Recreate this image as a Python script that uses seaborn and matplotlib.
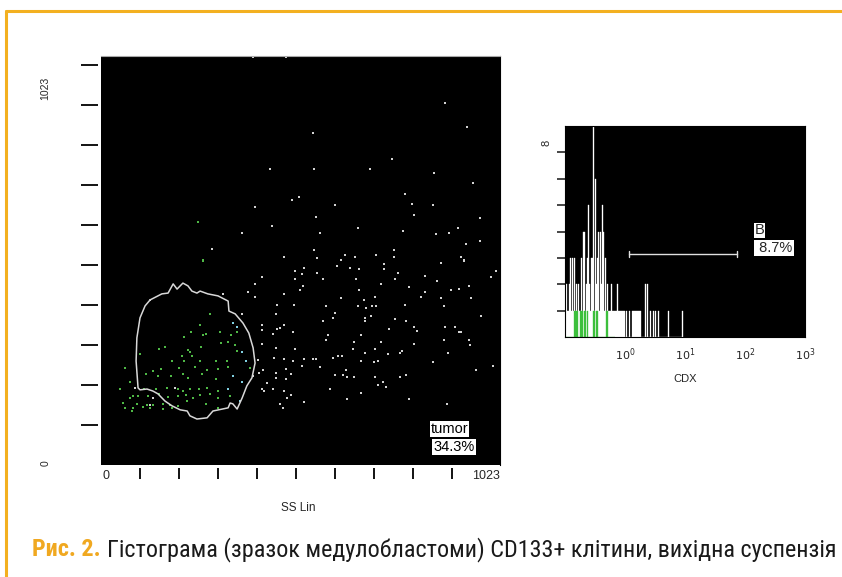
import numpy as np
import pandas as pd
import matplotlib.pyplot as plt
import matplotlib.ticker as ticker
import seaborn as sns
from matplotlib.font_manager import fontManager, FontProperties

# scatter data (SS Lin vs FS), channels 0..1023
ss_white = [390, 474, 433, 490, 508, 395, 438, 362, 285, 469,
            882, 938, 544, 746, 546, 690, 854, 954, 779, 600, 797, 851, 551, 803, 972,
            659, 562, 774, 859, 892, 915, 972, 936, 546, 751, 626, 705, 651, 751, 554,
            615, 923, 931,
            515, 520, 554, 605, 638, 662, 726, 726, 762, 872, 931, 1013, 1000, 569, 654,
            754, 831, 862, 718, 944, 518, 510, 662, 790, 831, 897, 918, 615, 674, 703,
            820, 872, 949, 779, 577, 659, 679, 695, 705, 879, 600, 692, 595, 569, 677,
            677, 754, 782, 974, 738, 803, 810, 882, 908, 918, 923, 582, 667, 577, 649,
            718, 803, 879, 944, 946, 646, 703, 677, 736, 767, 772, 890, 520, 544, 551,
            595, 608, 618, 667, 700, 710, 851, 1005, 515, 562, 628, 962, 600, 620, 631,
            649, 703, 767, 782, 723, 710, 731, 587, 667, 631, 790, 520, 887,
            497, 413, 497, 395, 377, 395, 469, 313, 495, 451, 362, 449, 469, 413, 459,
            451, 441, 492, 413, 413, 449, 497, 444, 469, 492, 403, 415, 405, 449, 474,
            487, 390, 449, 474, 426, 413, 441, 418, 469, 487, 477, 459, 467,
            87, 133, 190, 126]
fs_white = [1020, 1020, 740, 663, 670, 645, 598, 580, 540, 520,
            905, 845, 830, 765, 740, 740, 730, 705, 678, 650, 653, 650, 620, 625, 618,
            593, 580, 585, 578, 580, 593, 560, 553, 538, 538, 525, 525, 520, 520, 518,
            513, 520, 513,
            478, 493, 480, 498, 493, 490, 503, 490, 480, 505, 510, 485, 470, 465, 465,
            465, 473, 460, 453, 448, 448, 438, 438, 445, 433, 438, 440, 418, 413, 420,
            420, 418, 418, 400, 398, 398, 393, 398, 398, 398, 380, 373, 368, 360, 368,
            360, 365, 360, 373, 340, 345, 335, 345, 345, 333, 333, 325, 325, 313, 308,
            308, 303, 313, 313, 300, 290, 290, 280, 278, 280, 285, 280, 265, 265, 265,
            268, 273, 273, 260, 258, 260, 258, 248, 248, 245, 238, 238, 225, 225, 220,
            220, 220, 220, 225, 208, 200, 195, 190, 180, 165, 165, 158, 153,
            485, 470, 465, 453, 433, 420, 428, 428, 400, 400, 378, 378, 350, 350, 343,
            340, 328, 333, 338, 303, 293, 290, 268, 265, 260, 263, 238, 230, 230, 240,
            228, 223, 218, 215, 205, 190, 190, 185, 185, 175, 168, 153, 143,
            193, 168, 193, 150]

ss_green = [249, 262, 279, 254, 305, 231, 262, 269, 213, 349, 333, 308, 326, 344,
            349, 149, 223, 228, 256, 208, 233, 164, 100, 182, 213, 254, 295, 323,
            382, 62, 200, 241, 272, 300, 326, 154, 133, 115, 146, 179, 210, 223,
            259, 295, 74, 49, 110, 141, 169, 197, 210, 228, 251, 272, 300, 82, 95,
            121, 149, 172, 197, 218, 236, 254, 279, 300, 331, 56, 74, 92, 118, 133,
            159, 177, 197, 221, 269, 300, 62, 82, 108, 126, 159, 182, 79]
fs_green = [608, 512, 378, 350, 333, 333, 325, 328, 320, 333, 325, 305, 308, 300,
            285, 290, 288, 283, 295, 273, 273, 295, 278, 260, 260, 260, 260, 260,
            243, 243, 243, 245, 238, 240, 245, 240, 235, 228, 223, 223, 228, 218,
            228, 215, 208, 190, 190, 190, 193, 190, 185, 190, 190, 193, 185, 173, 173,
            173, 178, 170, 173, 175, 168, 175, 178, 168, 173, 155, 168, 153, 150, 150,
            153, 150, 148, 160, 153, 143, 143, 143, 145, 143, 140, 143, 135]

ss_cyan = [338, 349, 362, 372, 338, 362, 326, 356]
fs_cyan = [355, 345, 283, 260, 223, 208, 190, 160]

# "tumor" gate outline
gate_ss = [126, 156, 172, 185, 195, 210, 223, 233, 246, 254, 274, 300, 326, 328, 344,
           364, 379, 390, 395, 387, 374, 362, 349, 338, 331, 326, 287, 272, 246, 228,
           221, 203, 182, 164, 146, 133, 118, 100, 95, 90, 92, 100, 113, 126]
gate_fs = [413, 428, 430, 453, 440, 455, 448, 435, 430, 435, 428, 423, 410, 385, 378,
           355, 330, 293, 255, 218, 198, 168, 140, 153, 155, 143, 135, 118, 115, 123,
           135, 138, 148, 160, 178, 185, 190, 188, 193, 260, 318, 368, 398, 413]

# CDX histogram: counts per channel, channels start at 10^-1, 60 channels per decade
cdx_first_log = -1.0
cdx_step = 1 / 60
cdx_counts = [1, 2, 1, 1, 2, 3, 1, 3, 1, 3,
              1, 2, 1, 2, 1, 1, 3, 1, 4, 4,
              1, 2, 3, 5, 2, 1, 3, 3, 8, 1,
              6, 2, 3, 4, 1, 4, 2, 5, 4, 1,
              3, 1, 2, 1, 1, 1, 2, 1, 1, 1,
              1, 1, 2, 1, 1, 1, 1, 1, 1, 1,
              0, 1, 0, 0, 1, 0, 0, 1, 1, 1,
              1, 1, 1, 1, 1, 1, 0, 0, 0, 0,
              2, 0, 2, 0, 0, 1, 0, 0, 1, 0,
              1, 0, 0, 1, 0, 0, 0, 0, 0, 0,
              0, 0, 0, 1, 0, 0, 0, 0, 0, 0,
              0, 0, 0, 0, 0, 0, 0, 1]
cdx_green = [0, 0, 0, 0, 0, 0, 0, 0, 0, 1,
             1, 1, 1, 0, 0, 1, 1, 1, 0, 1,
             1, 0, 1, 0, 0, 0, 0, 0, 1, 1,
             0, 1, 1, 0, 0, 0, 0, 0, 0, 0,
             0, 1, 1, 0, 0, 0, 0, 0, 0, 0]
marker_b = (1.17, 73.5, 3.14)

caption_head = "Рис. 2."
caption_body = "Гістограма (зразок медулобластоми) CD133+ клітини, вихідна суспензія"

sns.set_style("white")
plt.rcParams["font.family"] = ["Liberation Sans", "DejaVu Sans"]


# condensed font for the caption, if one is installed
def find_condensed(bold):
    prefs = ["Roboto", "Open Sans", "Noto Sans", "DejaVu Sans", "Liberation Sans"]
    found = []
    for f in fontManager.ttflist:
        cond = ("ondensed" in f.name or "Narrow" in f.name
                or str(f.stretch) in ("condensed", "semi-condensed", "extra-condensed"))
        w = f.weight if isinstance(f.weight, int) else (700 if "bold" in str(f.weight) else 400)
        if cond and ((w >= 600) == bold) and "Oblique" not in f.fname and "Italic" not in f.fname:
            rank = next((i for i, p in enumerate(prefs) if f.name.startswith(p)), 99)
            found.append((rank, f.fname))
    if found:
        return FontProperties(fname=sorted(found)[0][1])
    return FontProperties(family="Liberation Sans", weight="bold" if bold else "normal")


fig = plt.figure(figsize=(8.42, 5.77), dpi=100)
fig.patch.set_facecolor("white")

# orange frame
orange = "#f3b020"
fig.add_artist(plt.Line2D([6 / 842, 1.0], [1 - 11 / 577, 1 - 11 / 577], color=orange, lw=2.2))
fig.add_artist(plt.Line2D([6 / 842, 6 / 842], [0, 1 - 11 / 577], color=orange, lw=2.2))

# ---- left: dot plot
ax = fig.add_axes([101 / 842, 1 - 465 / 577, 399 / 842, 409 / 577])
ax.set_facecolor("black")
df = pd.DataFrame({
    "ss": ss_white + ss_green + ss_cyan,
    "fs": fs_white + fs_green + fs_cyan,
    "pop": ["white"] * len(ss_white) + ["green"] * len(ss_green) + ["cyan"] * len(ss_cyan),
})
sns.scatterplot(data=df, x="ss", y="fs", hue="pop", marker="s", s=3, linewidth=0,
                palette={"white": "#d2d2d2", "green": "#4fb846", "cyan": "#80cfe0"},
                legend=False, ax=ax)
ax.plot(gate_ss, gate_fs, color="#d8d8d8", lw=1.1)
ax.set_xlim(0, 1023)
ax.set_ylim(0, 1023)
ax.set_xticks(range(100, 1000, 100))
ax.set_yticks(range(100, 1001, 100))
ax.set_xticklabels([])
ax.set_yticklabels([])
ax.spines["left"].set_position(("outward", 2))
ax.spines["bottom"].set_position(("outward", 2))
ax.spines["left"].set_visible(False)
ax.spines["bottom"].set_visible(False)
ax.spines["right"].set_color("black")
ax.spines["top"].set_color("#a8a8a8")
ax.tick_params(axis="x", direction="out", length=8, width=1.3, color="black", bottom=True)
ax.tick_params(axis="y", direction="out", length=12, width=1.3, color="black", left=True)
ax.set_xlabel("")
ax.set_ylabel("")
ax.text(0.005, -0.012, "0", transform=ax.transAxes, ha="left", va="top", fontsize=9)
ax.text(1.0, -0.012, "1023", transform=ax.transAxes, ha="right", va="top", fontsize=9)
ax.text(-0.14, 0.92, "1023", transform=ax.transAxes, ha="center", va="center",
        rotation=90, fontsize=7.5)
ax.text(-0.14, 0.005, "0", transform=ax.transAxes, ha="center", va="center",
        rotation=90, fontsize=7.5)
ax.text(0.495, -0.105, "SS Lin", transform=ax.transAxes, ha="center", va="center", fontsize=8.5)
ax.text(845, 72, "tumor", ha="left", va="bottom", fontsize=10.5, color="black",
        bbox=dict(facecolor="white", edgecolor="none", pad=0.5))
ax.text(852, 27, "34.3%", ha="left", va="bottom", fontsize=10.5, color="black",
        bbox=dict(facecolor="white", edgecolor="none", pad=0.8))

# ---- right: CDX histogram
ax2 = fig.add_axes([565 / 842, 1 - 337 / 577, 240 / 842, 211 / 577])
ax2.set_facecolor("black")
n = len(cdx_counts)
pos = [10 ** (cdx_first_log + (i + 0.5) * cdx_step) for i in range(n)]
rng = (cdx_first_log, cdx_first_log + n * cdx_step)
sns.histplot(x=pos, weights=cdx_counts, binwidth=cdx_step, binrange=rng, log_scale=True,
             color="white", alpha=1, edgecolor="white", linewidth=0.25, ax=ax2)
gpos = pos[:len(cdx_green)]
grng = (cdx_first_log, cdx_first_log + len(cdx_green) * cdx_step)
sns.histplot(x=gpos, weights=cdx_green, binwidth=cdx_step, binrange=grng, log_scale=True,
             color="#3cbf3c", alpha=1, edgecolor="#3cbf3c", linewidth=0.25, ax=ax2)
ax2.set_xlim(0.1, 1000)
ax2.set_ylim(0, 8)
ax2.set_yticks(range(1, 8))
ax2.set_yticklabels([])
ax2.xaxis.set_major_locator(ticker.LogLocator(base=10, numticks=10))
ax2.xaxis.set_minor_locator(ticker.LogLocator(base=10, subs=np.arange(2, 10), numticks=10))
ax2.xaxis.set_major_formatter(ticker.FuncFormatter(
    lambda v, p: "" if v < 0.5 else r"$10^{%d}$" % round(np.log10(v))))
ax2.xaxis.set_minor_formatter(ticker.NullFormatter())
ax2.tick_params(axis="x", which="major", direction="out", length=6, width=1, labelsize=8, pad=1)
ax2.tick_params(axis="x", which="minor", direction="out", length=3, width=0.8)
ax2.tick_params(axis="y", direction="out", length=6, width=1.2, left=True)
ax2.set_xlabel("")
ax2.set_ylabel("")
for s in ax2.spines.values():
    s.set_color("black")
ax2.plot([marker_b[0], marker_b[1]], [marker_b[2], marker_b[2]], color="#e0e0e0", lw=1)
ax2.plot([marker_b[0], marker_b[0]], [marker_b[2] - 0.12, marker_b[2] + 0.12], color="#e0e0e0", lw=1)
ax2.plot([marker_b[1], marker_b[1]], [marker_b[2] - 0.12, marker_b[2] + 0.12], color="#e0e0e0", lw=1)
ax2.text(147, 3.78, "B", ha="left", va="bottom", fontsize=10.5,
         bbox=dict(facecolor="white", edgecolor="none", pad=0.4))
ax2.text(620, 3.12, " 8.7%", ha="right", va="bottom", fontsize=10.5,
         bbox=dict(facecolor="white", edgecolor="none", pad=0.8))
ax2.text(-0.075, 0.92, "8", transform=ax2.transAxes, ha="center", va="center",
         rotation=90, fontsize=8)
ax2.text(0.5, -0.2, "CDX", transform=ax2.transAxes, ha="center", va="center", fontsize=8)

# caption: body sized to span its width in the original, head uses the same size
fp_head = find_condensed(True)
fp_body = find_condensed(False)
base = 1 - 556 / 577
t2 = fig.text(107 / 842, base, caption_body, color="#1a1a1a", fontproperties=fp_body,
              ha="left", va="baseline")
r = fig.canvas.get_renderer()
t2.set_fontsize(14)
fsize = 14 * 729 / t2.get_window_extent(r).width
t2.set_fontsize(fsize)
fp_head.set_size(fsize)
fig.text(101 / 842, base, caption_head, color="#f0a820", fontproperties=fp_head,
         ha="right", va="baseline")

fig.savefig("out.png", dpi=100)
